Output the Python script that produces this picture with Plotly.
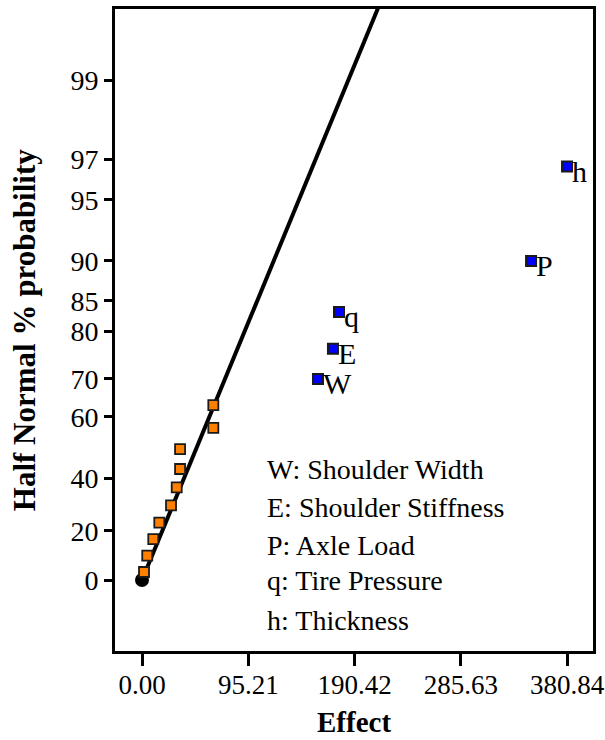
from statistics import NormalDist
import plotly.graph_objects as go

# ---- data ----
small_effects = [1.8, 4.7, 10.1, 15.5, 26.0, 31.1, 34.1, 34.1, 63.9, 63.9]
small_probs = [3.3, 10.0, 16.7, 23.3, 30.0, 36.7, 43.3, 50.0, 56.7, 63.3]

big_labels = ["W", "E", "q", "P", "h"]
big_effects = [157.7, 171.1, 176.5, 348.6, 380.84]
big_probs = [70.0, 76.7, 83.3, 90.0, 96.7]

line_effects = [0.0, 236.0]
line_probs = [0.0, 99.9]

origin_effect = [0.0]
origin_prob = [0.0]

x_ticks = [0.00, 95.21, 190.42, 285.63, 380.84]
y_ticks = [0, 20, 40, 60, 70, 80, 85, 90, 95, 97, 99]

legend_lines = ["W: Shoulder Width", "E: Shoulder Stiffness", "P: Axle Load",
                "q: Tire Pressure", "h: Thickness"]

# half-normal probability scale
_nd = NormalDist()
def hn(p):
    return _nd.inv_cdf(0.5 + p / 200.0)

FONT = "Times New Roman, Liberation Serif, serif"

fig = go.Figure()

fig.add_trace(go.Scatter(
    x=line_effects, y=[hn(p) for p in line_probs], mode="lines",
    line=dict(color="black", width=4), hoverinfo="skip", showlegend=False))

fig.add_trace(go.Scatter(
    x=origin_effect, y=[hn(p) for p in origin_prob], mode="markers",
    marker=dict(symbol="circle", size=14, color="black"), showlegend=False))

fig.add_trace(go.Scatter(
    x=small_effects, y=[hn(p) for p in small_probs], mode="markers",
    marker=dict(symbol="square", size=10, color="#FF8000",
                line=dict(color="#1a1a1a", width=1.8)),
    showlegend=False))

fig.add_trace(go.Scatter(
    x=big_effects, y=[hn(p) for p in big_probs], mode="markers",
    marker=dict(symbol="square", size=10, color="#0000FF",
                line=dict(color="#1a1a1a", width=2)),
    showlegend=False))

annotations = []
for lab, xe, pr in zip(big_labels, big_effects, big_probs):
    annotations.append(dict(
        x=xe, y=hn(pr), xref="x", yref="y", text=lab, showarrow=False,
        xanchor="left", yanchor="middle", xshift=3, yshift=-5,
        font=dict(family=FONT, size=30, color="black")))

legend_y = [0.282, 0.223, 0.164, 0.110, 0.048]
for txt, yy in zip(legend_lines, legend_y):
    annotations.append(dict(
        x=0.3138, y=yy, xref="paper", yref="paper", text=txt, showarrow=False,
        xanchor="left", yanchor="middle",
        font=dict(family=FONT, size=28, color="black")))

annotations.append(dict(
    x=0.5, y=-0.1106, xref="paper", yref="paper", text="<b>Effect</b>",
    showarrow=False, xanchor="center", yanchor="middle",
    font=dict(family=FONT, size=29, color="black")))
annotations.append(dict(
    x=-0.19, y=0.5, xref="paper", yref="paper",
    text="<b>Half Normal % probability</b>", textangle=-90,
    showarrow=False, xanchor="center", yanchor="middle",
    font=dict(family=FONT, size=31, color="black")))

fig.update_layout(
    width=605, height=740,
    margin=dict(l=115, r=12, t=9, b=89),
    paper_bgcolor="white", plot_bgcolor="white",
    font=dict(family=FONT, size=28, color="black"),
    annotations=annotations,
    xaxis=dict(
        range=[-24.2, 404.1], tickvals=x_ticks,
        ticktext=[f"{v:.2f}" for v in x_ticks],
        ticks="outside", ticklen=12, tickwidth=3, tickcolor="black",
        ticklabelstandoff=-4, automargin=False,
        showline=True, linewidth=3, linecolor="black", mirror=True,
        showgrid=False, zeroline=False,
        tickfont=dict(family=FONT, size=27, color="black")),
    yaxis=dict(
        range=[-0.366, 2.944], tickvals=[hn(p) for p in y_ticks],
        ticktext=[str(v) for v in y_ticks],
        ticks="outside", ticklen=8, tickwidth=3, tickcolor="black",
        automargin=False,
        showline=True, linewidth=3, linecolor="black", mirror=True,
        showgrid=False, zeroline=False,
        tickfont=dict(family=FONT, size=28, color="black")),
)

fig.write_html("out.html")
